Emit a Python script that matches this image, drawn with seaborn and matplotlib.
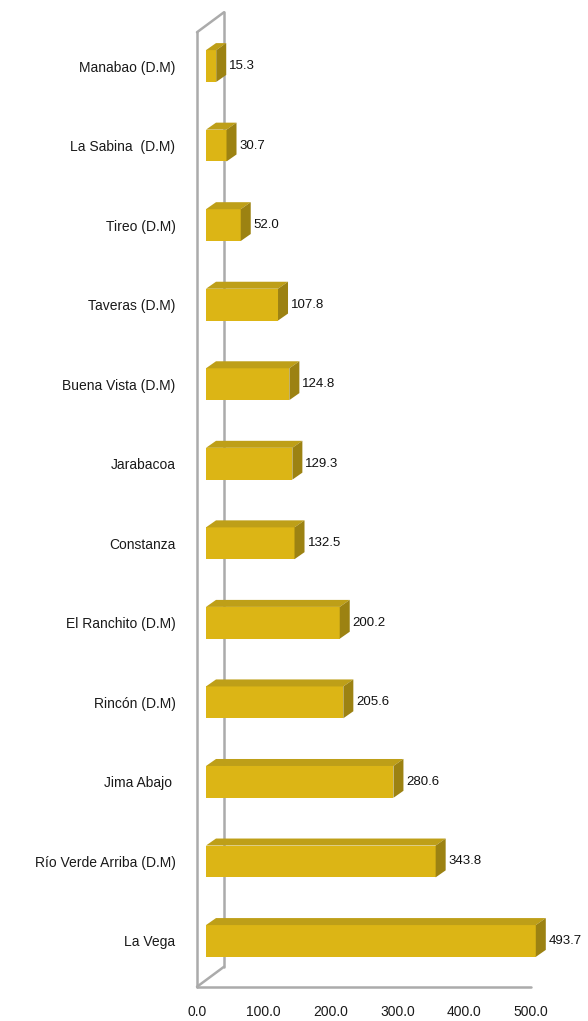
import numpy as np
import matplotlib
matplotlib.use("Agg")
import matplotlib.pyplot as plt
import matplotlib.transforms as mtrans
from matplotlib.patches import Polygon
from matplotlib.lines import Line2D
import seaborn as sns

# Data (top to bottom as in the chart)
categories = ["Manabao (D.M)", "La Sabina  (D.M)", "Tireo (D.M)", "Taveras (D.M)",
              "Buena Vista (D.M)", "Jarabacoa", "Constanza", "El Ranchito (D.M)",
              "Rincón (D.M)", "Jima Abajo ", "Río Verde Arriba (D.M)", "La Vega"]
values = [15.3, 30.7, 52.0, 107.8, 124.8, 129.3, 132.5, 200.2, 205.6, 280.6, 343.8, 493.7]
xticks = [0, 100, 200, 300, 400, 500]
xtick_labels = [f"{t:.1f}" for t in xticks]

# Styles
FRONT = "#DCB515"
TOP = "#BE9F18"
SIDE = "#9C8212"
WALL = "#ABABAB"
BAR_DX, BAR_DY = 10, 7        # bar depth, px
FRONT_DX, FRONT_DY = -9, -6   # front plane of the box vs bar plane, px
BOX_DX, BOX_DY = 27, 20       # box depth, px

sns.set_theme(style="white")
plt.rcParams["font.family"] = ["Liberation Sans", "DejaVu Sans"]

fig = plt.figure(figsize=(5.88, 10.21), dpi=100)
ax = fig.add_axes([206 / 588, 1 - 980.75 / 1021, 334 / 588, 954.5 / 1021])
ax.patch.set_alpha(0)

sns.barplot(x=values, y=categories, orient="h", color=FRONT, width=0.4,
            linewidth=0, saturation=1, ax=ax)
ax.set_xlim(0, 500)
ax.set_ylim(len(categories) - 0.5, -0.5)
for s in ax.spines.values():
    s.set_visible(False)
ax.set_xlabel("")
ax.set_ylabel("")
ax.set_xticks(xticks)
ax.set_xticklabels([])
ax.tick_params(axis="both", length=0)
ax.tick_params(axis="y", pad=22, labelsize=10, labelcolor="#1a1a1a")

ident = mtrans.IdentityTransform()
fig.canvas.draw()

# 3D faces on each bar
for p in ax.patches:
    x0, y0 = p.get_x(), p.get_y()
    (L, B), (R, T) = ax.transData.transform([(x0, y0 + p.get_height()), (x0 + p.get_width(), y0)])
    top = Polygon([(L, T), (R, T), (R + BAR_DX, T + BAR_DY), (L + BAR_DX, T + BAR_DY)],
                  closed=True, transform=ident, facecolor=TOP, edgecolor="none", zorder=3)
    side = Polygon([(R, B), (R, T), (R + BAR_DX, T + BAR_DY), (R + BAR_DX, B + BAR_DY)],
                   closed=True, transform=ident, facecolor=SIDE, edgecolor="none", zorder=3)
    fig.add_artist(top)
    fig.add_artist(side)

# value labels
for i, v in enumerate(values):
    ax.annotate(f"{v:.1f}", xy=(v, i), xytext=((BAR_DX + 3) * 0.72, 0),
                textcoords="offset points", ha="left", va="center",
                fontsize=9.5, color="#111111", annotation_clip=False)

# box walls (behind the bars)
ylo, yhi = ax.get_ylim()
(fx0, fyb), (fx1, fyt) = ax.transData.transform([(0, ylo), (500, yhi)])
fx0 += FRONT_DX; fx1 += FRONT_DX
fyb += FRONT_DY; fyt += FRONT_DY
bx0, byb, byt = fx0 + BOX_DX, fyb + BOX_DY, fyt + BOX_DY
segs = [
    [(fx0, fyb), (fx1, fyb)],      # floor front edge
    [(fx0, fyb), (fx0, fyt)],      # front left edge
    [(bx0, byb), (bx0, byt)],      # back wall edge
    [(fx0, fyt), (bx0, byt)],      # top diagonal
    [(fx0, fyb), (bx0, byb)],      # bottom diagonal
]
for seg in segs:
    xs, ys = zip(*seg)
    fig.add_artist(Line2D(xs, ys, transform=ident, color=WALL, lw=1.8, zorder=-1,
                          solid_capstyle="round"))

# x tick labels on the front plane
lab_off = mtrans.ScaledTranslation(FRONT_DX / 100, (FRONT_DY - 18) / 100, fig.dpi_scale_trans)
for t, lab in zip(xticks, xtick_labels):
    ax.text(t, ylo, lab, transform=ax.transData + lab_off, ha="center", va="top",
            fontsize=10, color="#1a1a1a", clip_on=False)

fig.savefig("out.png", dpi=100)
